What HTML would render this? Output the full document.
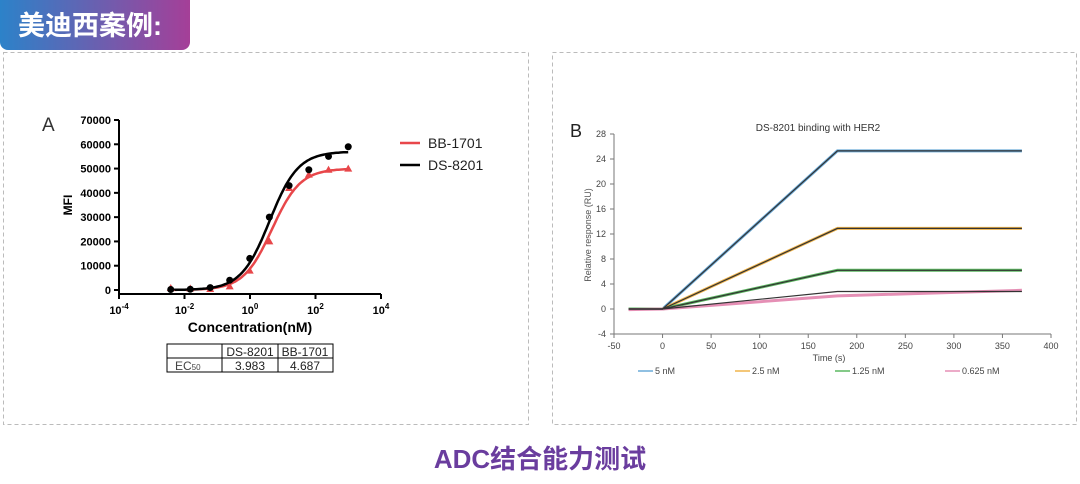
<!DOCTYPE html>
<html><head><meta charset="utf-8"><style>
body{margin:0;width:1080px;height:479px;background:#fff;overflow:hidden;font-family:"Liberation Sans","Noto Sans CJK SC",sans-serif}
</style></head><body>
<svg id="s" width="1080" height="479" xmlns="http://www.w3.org/2000/svg" font-family="Liberation Sans, Noto Sans CJK SC, sans-serif">
<defs><linearGradient id="g" x1="0" x2="1"><stop offset="0" stop-color="#2c82c9"/><stop offset="1" stop-color="#a53f98"/></linearGradient></defs>
<g><rect x="0" y="-10" width="190" height="60" rx="8" fill="url(#g)"/>
<text x="18" y="35" font-size="27" font-weight="bold" fill="#fff">美迪西案例:</text></g>
<rect x="3.5" y="52.5" width="525" height="372" fill="none" stroke="#bbb" stroke-dasharray="4,3"/>
<rect x="552.5" y="52.5" width="524" height="372" fill="none" stroke="#bbb" stroke-dasharray="4,3"/>
<text x="540" y="468" text-anchor="middle" font-size="26" font-weight="bold" fill="#6a3d9e">ADC结合能力测试</text>
<g id="A"></g><g id="B"></g>
</svg>
<script>
// Chart A data
const concA=[0.0038,0.015,0.061,0.24,0.98,3.9,15.6,62.5,250,1000];
const dsVals=[200,300,1000,4000,13000,30000,43000,49500,55000,59000];
const bbVals=[800,600,400,1500,8000,20000,42000,47500,49500,50000];
const ec50=[3.983,4.687];
const tops=[57000,50000];
const yTicksA=[0,10000,20000,30000,40000,50000,60000,70000];
const xExpA=[-4,-2,0,2,4];
// Chart B data
const timeB=[-35,0,180,370];
const s5=[0,0,25.3,25.3];
const s25=[0,0,12.9,12.9];
const s125=[0,0,6.2,6.2];
const s0625=[0,0,2.8,2.8];
const s0625raw=[-0.1,0,2.1,3.0];
const labelsB=["5 nM","2.5 nM","1.25 nM","0.625 nM"];
const colorsB=["#6aaad8","#f0b44a","#5bb860","#e58fb5"];
const yTicksB=[-4,0,4,8,12,16,20,24,28];
const xTicksB=[-50,0,50,100,150,200,250,300,350,400];

const NS="http://www.w3.org/2000/svg";
function mk(p,t,a,txt){const e=document.createElementNS(NS,t);for(const k in a)e.setAttribute(k,a[k]);if(txt!==undefined)e.textContent=txt;p.appendChild(e);return e;}
const A=document.getElementById('A');
const xA=c=>119+(Math.log10(c)+4)*32.75;
const yA=v=>290-v*170/70000;
let e;
e=mk(A,'line',{x1:119,y1:120,x2:119,y2:294,stroke:'#000','stroke-width':2});

e=mk(A,'line',{x1:119,y1:294,x2:381,y2:294,stroke:'#000','stroke-width':2});

yTicksA.forEach(v=>{mk(A,'line',{x1:114,y1:yA(v),x2:119,y2:yA(v),stroke:'#000','stroke-width':2});
e=mk(A,'text',{x:111,y:yA(v)+4,'text-anchor':'end','font-size':11,'font-weight':'bold'},String(v));
});
xExpA.forEach(p=>{const x=xA(Math.pow(10,p));mk(A,'line',{x1:x,y1:294,x2:x,y2:299,stroke:'#000','stroke-width':2});
e=mk(A,'text',{x:x,y:314,'text-anchor':'middle','font-size':11,'font-weight':'bold'});
e.innerHTML='10<tspan dy="-5" font-size="8">'+p+'</tspan>';
});
e=mk(A,'text',{x:250,y:332,'text-anchor':'middle','font-size':14,'font-weight':'bold'},'Concentration(nM)');

e=mk(A,'text',{x:0,y:0,'text-anchor':'middle','font-size':12,'font-weight':'bold',transform:'translate(72,205) rotate(-90)'},'MFI');

e=mk(A,'text',{x:42,y:131,'font-size':19,fill:'#333'},'A');

function curve(top,ec,col,name){let d='';for(let l=-2.45;l<=3.0;l+=0.05){const c=Math.pow(10,l);const v=top/(1+Math.pow(ec/c,1.0));d+=(d?'L':'M')+xA(c).toFixed(1)+','+yA(v).toFixed(1);}
const p=mk(A,'path',{d:d,fill:'none',stroke:col,'stroke-width':2.5});}
curve(tops[1],ec50[1],'#e8474a','bb-1701-fit');
curve(tops[0],ec50[0],'#000','ds-8201-fit');
concA.forEach((c,i)=>{const x=xA(c),y=yA(bbVals[i]);e=mk(A,'path',{d:`M${x},${y-4}L${x+4},${y+3}L${x-4},${y+3}Z`,fill:'#e8474a'});
});
concA.forEach((c,i)=>{e=mk(A,'circle',{cx:xA(c),cy:yA(dsVals[i]),r:3.5,fill:'#000'});
});
[['BB-1701','#e8474a',143],['DS-8201','#000',165]].forEach(([t,c,y])=>{const g=mk(A,'g',{});
mk(g,'line',{x1:400,y1:y,x2:420,y2:y,stroke:c,'stroke-width':2.5});mk(g,'text',{x:428,y:y+5,'font-size':14,fill:'#222'},t);});
const tb=mk(A,'g',{});
mk(tb,'rect',{x:167,y:344,width:166,height:28,fill:'none',stroke:'#000'});
mk(tb,'line',{x1:167,y1:358,x2:333,y2:358,stroke:'#000'});
mk(tb,'line',{x1:222,y1:344,x2:222,y2:372,stroke:'#000'});
mk(tb,'line',{x1:278,y1:344,x2:278,y2:372,stroke:'#000'});
mk(tb,'text',{x:250,y:356,'text-anchor':'middle','font-size':12,fill:'#222'},'DS-8201');
mk(tb,'text',{x:305,y:356,'text-anchor':'middle','font-size':12,fill:'#222'},'BB-1701');
mk(tb,'text',{x:250,y:370,'text-anchor':'middle','font-size':12,fill:'#222'},String(ec50[0]));
mk(tb,'text',{x:305,y:370,'text-anchor':'middle','font-size':12,fill:'#222'},String(ec50[1]));
e=mk(tb,'text',{x:175,y:370,'font-size':12,fill:'#444'});e.innerHTML='EC<tspan font-size="8">50</tspan>';

// Chart B
const B=document.getElementById('B');
const xB=t=>614+(t+50)*437/450;
const yB=v=>309-v*25/4;
e=mk(B,'line',{x1:614,y1:134,x2:614,y2:334,stroke:'#777'});
e=mk(B,'line',{x1:614,y1:334,x2:1051,y2:334,stroke:'#777'});
yTicksB.forEach(v=>{mk(B,'line',{x1:610,y1:yB(v),x2:614,y2:yB(v),stroke:'#777'});
e=mk(B,'text',{x:606,y:yB(v)+3,'text-anchor':'end','font-size':9,fill:'#444'},String(v));});
xTicksB.forEach(t=>{mk(B,'line',{x1:xB(t),y1:334,x2:xB(t),y2:338,stroke:'#777'});
e=mk(B,'text',{x:xB(t),y:349,'text-anchor':'middle','font-size':9,fill:'#444'},String(t));});
e=mk(B,'text',{x:829,y:361,'text-anchor':'middle','font-size':9,fill:'#444'},'Time (s)');
e=mk(B,'text',{x:0,y:0,'text-anchor':'middle','font-size':9,fill:'#555',transform:'translate(591,235) rotate(-90)'},'Relative response (RU)');
e=mk(B,'text',{x:818,y:131,'text-anchor':'middle','font-size':10,fill:'#333'},'DS-8201 binding with HER2');
e=mk(B,'text',{x:570,y:137,'font-size':18,fill:'#222'},'B');
function line(arr,col,w,name){const d=timeB.map((t,i)=>(i?'L':'M')+xB(t).toFixed(1)+','+yB(arr[i]).toFixed(1)).join('');
const p=mk(B,'path',{d:d,fill:'none',stroke:col,'stroke-width':w});}
const raw=[s5,s25,s125,s0625raw];
raw.forEach((a,i)=>line(a,colorsB[i],3,'series-'+labelsB[i].replace(/ /g,'').replace('.','p')));
[s5,s25,s125,s0625].forEach((a,i)=>line(a,'#333',1.2,'fit-'+labelsB[i].replace(/ /g,'').replace('.','p')));
const lx=[638,735,835,945];
labelsB.forEach((l,i)=>{const g=mk(B,'g',{});
mk(g,'line',{x1:lx[i],y1:371,x2:lx[i]+15,y2:371,stroke:colorsB[i],'stroke-width':1.5});
mk(g,'text',{x:lx[i]+17,y:374,'font-size':9,fill:'#444'},l);});
</script>
</body></html>
